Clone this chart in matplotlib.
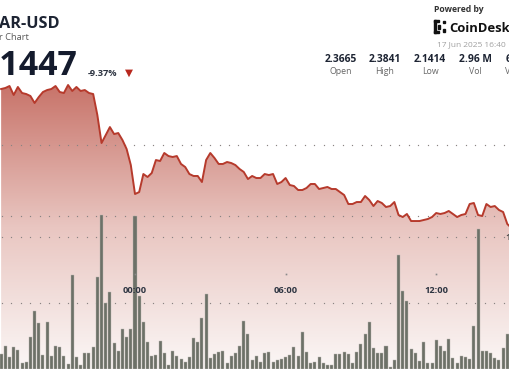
import numpy as np
import matplotlib.pyplot as plt
from matplotlib.colors import LinearSegmentedColormap
from matplotlib.patches import Rectangle

plt.rcParams['font.family'] = ['Open Sans', 'DejaVu Sans']

# 10-minute candles, step 0 == 00:00
FIRST_STEP = -32

prices = [
    2.3774, 2.3791, 2.3824, 2.3674, 2.3808, 2.3707, 2.3690, 2.3657, 2.3540, 2.3640,
    2.3724, 2.3757, 2.3774, 2.3824, 2.3724, 2.3707, 2.3841, 2.3741, 2.3808, 2.3741,
    2.3757, 2.3707, 2.3690, 2.3339, 2.2870, 2.3003, 2.3137, 2.3020, 2.3037, 2.2920,
    2.2769, 2.2501, 2.2016, 2.2049, 2.2351, 2.2301, 2.2368, 2.2585, 2.2569, 2.2703,
    2.2652, 2.2636, 2.2652, 2.2519, 2.2468, 2.2351, 2.2318, 2.2318, 2.2217, 2.2585,
    2.2703, 2.2619, 2.2519, 2.2519, 2.2552, 2.2535, 2.2501, 2.2435, 2.2385, 2.2267,
    2.2318, 2.2284, 2.2284, 2.2351, 2.2334, 2.2351, 2.2184, 2.2217, 2.2284, 2.2167,
    2.2150, 2.2083, 2.2083, 2.2117, 2.2184, 2.2184, 2.2100, 2.2117, 2.2134, 2.2100,
    2.2100, 2.2049, 2.1999, 2.1849, 2.1849, 2.1882, 2.1882, 2.1983, 2.1916, 2.1815,
    2.1899, 2.1866, 2.1799, 2.1815, 2.1882, 2.1665, 2.1631, 2.1682, 2.1564, 2.1564,
    2.1564, 2.1581, 2.1598, 2.1631, 2.1698, 2.1682, 2.1698, 2.1732, 2.1682, 2.1631,
    2.1665, 2.1682, 2.1849, 2.1866, 2.1665, 2.1648, 2.1849, 2.1799, 2.1815, 2.1749,
    2.1715, 2.1514, 2.1447,
]

# volume per candle, thousands
volumes = [
    15, 23, 12, 22, 19, 6, 7, 32, 58, 46, 14, 47, 13, 23, 22, 13, 5, 94, 12, 4,
    16, 16, 22, 92, 154, 66, 77, 26, 18, 40, 32, 40, 153, 73, 47, 27, 13, 14, 28, 16,
    4, 18, 13, 10, 7, 12, 31, 27, 51, 75, 11, 15, 17, 18, 6, 13, 16, 23, 48, 35,
    9, 13, 7, 16, 17, 7, 9, 10, 12, 14, 22, 13, 37, 17, 6, 7, 12, 6, 4, 4,
    15, 15, 17, 15, 6, 17, 25, 35, 47, 21, 16, 16, 23, 2, 9, 114, 78, 68, 20, 16,
    8, 27, 6, 6, 29, 23, 18, 30, 11, 6, 13, 12, 10, 43, 140, 18, 18, 16, 11, 9,
    21, 35, 59,
]

tick_hours = [0, 6, 12]
tick_labels = ["00:00", "06:00", "12:00"]
grid_prices = [2.2837, 2.1648, 2.1296, 2.0191]

stat_values = ["2.3665", "2.3841", "2.1414", "2.96 M"]
stat_names = ["Open", "High", "Low", "Vol"]

hours = [(FIRST_STEP + i) / 6 for i in range(len(prices))]

W, H = 510, 369
PX_PER_HOUR = 25.1
XLIM = (-135 / PX_PER_HOUR, 375 / PX_PER_HOUR)
PLIM = (1.9087, 2.5264)

fig = plt.figure(figsize=(W / 100, H / 100), dpi=100)
fig.patch.set_facecolor('white')

ax = fig.add_axes([0, 0, 1, 1])
axv = fig.add_axes([0, 0, 1, 1])
axl = fig.add_axes([0, 0, 1, 1])
for a in (ax, axv, axl):
    a.set_axis_off()
    a.set_xlim(*XLIM)
axv.patch.set_alpha(0)
axl.patch.set_alpha(0)

# gradient area under the price
cmap = LinearSegmentedColormap.from_list('fill', ['#fbf7f6', '#e9c6c1', '#c8746a'])
grad = np.linspace(0, 1, 256).reshape(-1, 1)
im = ax.imshow(grad, cmap=cmap, aspect='auto', origin='lower',
               extent=[XLIM[0], XLIM[1], PLIM[0], max(prices)], zorder=1)
poly = ax.fill_between(hours, prices, PLIM[0], facecolor='none', edgecolor='none')
im.set_clip_path(poly.get_paths()[0], transform=ax.transData)

# dotted horizontal grid (one dot every ~9.5 px)
dot_x = np.arange(XLIM[0] + 1.7 / PX_PER_HOUR, XLIM[1], 9.47 / PX_PER_HOUR)
for g in grid_prices:
    ax.plot(dot_x, np.full(len(dot_x), g), ls='none', marker='s', ms=0.85, mew=0,
            color='#8a8483', zorder=3)
ax.set_xlim(*XLIM)
ax.set_ylim(*PLIM)

# volume bars
axv.bar(hours, volumes, width=0.72 / 6, color='#6d7168', edgecolor='#b9b5b0',
        linewidth=0.3)
axv.set_ylim(0, H)
axv.set_xlim(*XLIM)

# price line
axl.plot(hours, prices, color='#b63a2c', lw=1.4, solid_joinstyle='round')
axl.set_ylim(*PLIM)
axl.set_xlim(*XLIM)

# time axis labels, drawn over the bars
tr = axl.get_xaxis_transform()
for h, lab in zip(tick_hours, tick_labels):
    axl.plot([h], [1 - 274 / H], marker='s', ms=1.2, mew=0, color='#8a8a8a',
             transform=tr)
    axl.text(h, 1 - 292.7 / H, lab, transform=tr, ha='center', va='baseline',
             fontsize=6.7, fontweight='bold', color='#2d3441')


def ft(x, y, s, **kw):
    fig.text(x / W, 1 - y / H, s, va='baseline', **kw)


ft(505, 240, "1", fontsize=6.7, fontweight='bold', color='#4a4a4a')

# header
ft(-1, 28.3, "AR-USD", fontsize=11.7, fontweight='bold', color='#1d2433')
ft(-1, 40.5, "r Chart", fontsize=6.7, color='#5a5a5a')
ft(78, 75, "2.1447", fontsize=24.5, fontweight='bold', color='#141b2d', ha='right')
ft(88, 75.5, "-9.37%", fontsize=6.7, fontweight='bold', color='#2d3441')
ft(128.5, 76, "\u25bc", fontsize=7.5, color='#b8281e', ha='center',
   family='DejaVu Sans')

ft(434, 12.5, "Powered by", fontsize=6.2, fontweight='bold', color='#333333')
ft(449.5, 32, "CoinDesk", fontsize=9.4, fontweight='bold', color='#111111')
ft(437, 46.7, "17 Jun 2025 16:40", fontsize=6, color='#a0a0a0')

# CoinDesk mark
for (x, y, w, h) in [(434, 20, 2.2, 13), (434, 20, 5, 2.2), (434, 30.8, 5, 2.2),
                     (438, 24.5, 2.2, 4), (443, 21, 2.4, 2.4), (443, 29.5, 2.4, 2.4)]:
    fig.patches.append(Rectangle((x / W, 1 - (y + h) / H), w / W, h / H,
                                 transform=fig.transFigure, color='#111111'))

for cx, v, n in zip([341, 384.5, 430, 475.5], stat_values, stat_names):
    ft(cx, 62.3, v, fontsize=7.4, fontweight='bold', color='#1d2433', ha='center')
    ft(cx, 73.8, n, fontsize=6.3, color='#666666', ha='center')
ft(506, 62.3, "6", fontsize=7.4, fontweight='bold', color='#1d2433')
ft(505, 73.8, "V", fontsize=6.3, color='#666666')

fig.savefig("out.png", dpi=100)
